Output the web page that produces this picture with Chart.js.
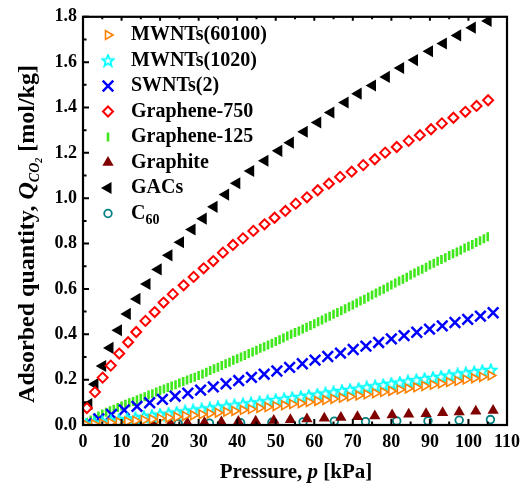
<!DOCTYPE html>
<html>
<head>
<meta charset="utf-8">
<script src="https://cdn.jsdelivr.net/npm/chart.js@4.4.1/dist/chart.umd.min.js"></script>
<style>
  html, body { margin: 0; padding: 0; background: #fff; }
  #wrap { width: 527px; height: 484px; }
</style>
</head>
<body>
<div id="wrap"><canvas id="chart" width="527" height="484"></canvas></div>
<script>
// CO2 adsorption isotherms, p in kPa, Q in mol/kg

const pMWNT = [0.8, 2.9, 5.0, 7.2, 9.3, 11.5, 13.6, 15.8, 17.9, 20.0, 22.2, 24.3, 26.5, 28.6, 30.8, 32.9, 35.0, 37.2, 39.3, 41.5, 43.6, 45.8, 47.9, 50.0, 52.2, 54.3, 56.5, 58.6, 60.8, 62.9, 65.0, 67.2, 69.3, 71.5, 73.6, 75.8, 77.9, 80.0, 82.2, 84.3, 86.5, 88.6, 90.8, 92.9, 95.0, 97.2, 99.3, 101.5, 103.6, 105.8];
const qMWNT60100 = [0.001, 0.004, 0.007, 0.010, 0.013, 0.016, 0.019, 0.022, 0.026, 0.029, 0.032, 0.036, 0.040, 0.043, 0.047, 0.051, 0.054, 0.058, 0.062, 0.066, 0.070, 0.075, 0.079, 0.083, 0.087, 0.092, 0.096, 0.101, 0.106, 0.110, 0.115, 0.120, 0.125, 0.130, 0.135, 0.140, 0.145, 0.150, 0.156, 0.161, 0.166, 0.172, 0.177, 0.183, 0.189, 0.194, 0.200, 0.206, 0.212, 0.218];
const qMWNT1020 = [0.002, 0.007, 0.012, 0.017, 0.021, 0.026, 0.031, 0.036, 0.041, 0.046, 0.050, 0.055, 0.060, 0.064, 0.069, 0.073, 0.078, 0.082, 0.087, 0.091, 0.096, 0.100, 0.105, 0.110, 0.114, 0.119, 0.124, 0.129, 0.134, 0.139, 0.144, 0.150, 0.155, 0.160, 0.166, 0.171, 0.176, 0.182, 0.187, 0.192, 0.198, 0.203, 0.208, 0.213, 0.218, 0.223, 0.228, 0.233, 0.238, 0.243];

const pSWNT = [0.8, 4.1, 7.4, 10.7, 14.0, 17.3, 20.6, 23.9, 27.2, 30.5, 33.8, 37.1, 40.4, 43.7, 47.0, 50.3, 53.6, 56.9, 60.2, 63.5, 66.8, 70.1, 73.4, 76.7, 80.0, 83.3, 86.6, 89.9, 93.2, 96.5, 99.8, 103.1, 106.4];
const qSWNT = [0.006, 0.027, 0.047, 0.066, 0.082, 0.098, 0.113, 0.127, 0.140, 0.154, 0.168, 0.182, 0.196, 0.210, 0.224, 0.238, 0.254, 0.270, 0.286, 0.302, 0.317, 0.333, 0.348, 0.364, 0.380, 0.394, 0.409, 0.423, 0.437, 0.452, 0.466, 0.480, 0.495];

const pG750 = [1.0, 3.1, 5.1, 7.2, 9.4, 11.7, 13.8, 16.2, 18.6, 20.9, 23.3, 26.1, 28.7, 31.3, 33.8, 36.3, 38.9, 41.5, 44.2, 47.1, 49.7, 52.5, 55.2, 58.1, 60.9, 63.8, 66.7, 69.7, 72.7, 75.7, 78.4, 81.4, 84.5, 87.4, 90.3, 93.1, 96.1, 99.2, 102.1, 105.1];
const qG750 = [0.075, 0.145, 0.209, 0.262, 0.315, 0.365, 0.410, 0.459, 0.498, 0.540, 0.577, 0.616, 0.653, 0.691, 0.723, 0.760, 0.794, 0.823, 0.856, 0.885, 0.914, 0.944, 0.976, 1.004, 1.035, 1.064, 1.094, 1.117, 1.146, 1.172, 1.201, 1.226, 1.253, 1.278, 1.304, 1.330, 1.355, 1.381, 1.407, 1.432];

const pG125 = [1, 2, 3, 4, 5, 6, 7, 8, 9, 10, 11, 12, 13, 14, 15, 16, 17, 18, 19, 20, 21, 22, 23, 24, 25, 26, 27, 28, 29, 30, 31, 32, 33, 34, 35, 36, 37, 38, 39, 40, 41, 42, 43, 44, 45, 46, 47, 48, 49, 50, 51, 52, 53, 54, 55, 56, 57, 58, 59, 60, 61, 62, 63, 64, 65, 66, 67, 68, 69, 70, 71, 72, 73, 74, 75, 76, 77, 78, 79, 80, 81, 82, 83, 84, 85, 86, 87, 88, 89, 90, 91, 92, 93, 94, 95, 96, 97, 98, 99, 100, 101, 102, 103, 104, 105];
const qG125 = [0.012, 0.022, 0.031, 0.040, 0.048, 0.056, 0.063, 0.070, 0.077, 0.084, 0.091, 0.098, 0.104, 0.111, 0.118, 0.125, 0.132, 0.138, 0.145, 0.152, 0.159, 0.165, 0.172, 0.178, 0.185, 0.192, 0.198, 0.205, 0.211, 0.218, 0.225, 0.233, 0.240, 0.248, 0.255, 0.262, 0.270, 0.277, 0.285, 0.292, 0.300, 0.307, 0.315, 0.322, 0.330, 0.338, 0.345, 0.353, 0.360, 0.368, 0.376, 0.384, 0.392, 0.400, 0.408, 0.415, 0.423, 0.431, 0.439, 0.447, 0.455, 0.463, 0.472, 0.480, 0.488, 0.496, 0.504, 0.513, 0.521, 0.529, 0.538, 0.547, 0.555, 0.564, 0.573, 0.582, 0.591, 0.599, 0.608, 0.617, 0.626, 0.635, 0.643, 0.652, 0.661, 0.670, 0.679, 0.687, 0.696, 0.705, 0.713, 0.722, 0.730, 0.738, 0.747, 0.755, 0.763, 0.771, 0.780, 0.788, 0.796, 0.805, 0.813, 0.821, 0.830];

const pGraphite = [0.9, 5.3, 9.6, 14.0, 18.4, 22.7, 27.1, 31.5, 35.9, 40.3, 44.8, 49.5, 53.8, 58.1, 62.6, 66.9, 71.2, 75.7, 80.2, 84.5, 89.0, 93.3, 97.6, 101.9, 106.4];
const qGraphite = [0.000, 0.001, 0.002, 0.003, 0.005, 0.007, 0.009, 0.011, 0.013, 0.015, 0.017, 0.020, 0.023, 0.026, 0.030, 0.033, 0.036, 0.040, 0.044, 0.047, 0.050, 0.054, 0.057, 0.061, 0.064];

const pGAC = [1.5, 3.1, 5.1, 7.0, 9.2, 11.5, 14.0, 16.6, 19.5, 22.3, 25.3, 28.3, 31.2, 34.0, 37.0, 39.9, 43.5, 47.2, 50.8, 53.8, 57.4, 60.9, 64.3, 68.0, 71.4, 75.1, 78.7, 82.4, 86.0, 89.9, 93.5, 97.2, 101.0, 105.1];
const qGAC = [0.092, 0.180, 0.260, 0.340, 0.418, 0.490, 0.556, 0.622, 0.686, 0.748, 0.806, 0.862, 0.910, 0.962, 1.016, 1.066, 1.120, 1.165, 1.209, 1.245, 1.293, 1.334, 1.378, 1.422, 1.461, 1.497, 1.535, 1.574, 1.609, 1.648, 1.682, 1.718, 1.752, 1.782];

const pC60 = [0.4, 8.5, 16.6, 24.7, 32.8, 40.9, 49.0, 57.1, 65.2, 73.3, 81.4, 89.5, 97.6, 105.7];
const qC60 = [0.000, 0.002, 0.004, 0.006, 0.008, 0.010, 0.012, 0.014, 0.017, 0.015, 0.018, 0.018, 0.021, 0.024];

const xTicks = [0, 10, 20, 30, 40, 50, 60, 70, 80, 90, 100, 110];
const yTicks = [0, 0.2, 0.4, 0.6, 0.8, 1.0, 1.2, 1.4, 1.6, 1.8];

const FONT = "'Liberation Serif', 'Times New Roman', serif";

function pts(xs, ys) {
  return xs.map((x, i) => ({ x: x, y: ys[i] }));
}

// open five-point star used for MWNTs(1020)
function makeStar() {
  const c = document.createElement("canvas");
  c.width = 14;
  c.height = 14;
  const g = c.getContext("2d");
  g.beginPath();
  for (let k = 0; k < 10; k++) {
    const r = k % 2 === 0 ? 6 : 2.6;
    const a = -Math.PI / 2 + (k * Math.PI) / 5;
    const px = 7 + r * Math.cos(a);
    const py = 7.5 + r * Math.sin(a);
    if (k === 0) g.moveTo(px, py);
    else g.lineTo(px, py);
  }
  g.closePath();
  g.fillStyle = "#ffffff";
  g.fill();
  g.lineWidth = 1.8;
  g.strokeStyle = "#00ffff";
  g.stroke();
  return c;
}
const starImg = makeStar();

const datasets = [
  {
    label: "MWNTs(60100)",
    data: pts(pMWNT, qMWNT60100),
    pointStyle: "triangle",
    rotation: 90,
    radius: 5,
    borderWidth: 1.6,
    borderColor: "#ff8000",
    backgroundColor: "#ffffff",
  },
  {
    label: "MWNTs(1020)",
    data: pts(pMWNT, qMWNT1020),
    pointStyle: starImg,
    radius: 6,
    borderWidth: 0,
    borderColor: "#00ffff",
    backgroundColor: "#00ffff",
  },
  {
    label: "SWNTs(2)",
    data: pts(pSWNT, qSWNT),
    pointStyle: "crossRot",
    radius: 7.5,
    borderWidth: 2.5,
    borderColor: "#0000ff",
    backgroundColor: "#0000ff",
  },
  {
    label: "Graphene-750",
    data: pts(pG750, qG750),
    pointStyle: "rectRot",
    radius: 5,
    borderWidth: 2,
    borderColor: "#ff0000",
    backgroundColor: "#ffffff",
  },
  {
    label: "Graphene-125",
    data: pts(pG125, qG125),
    pointStyle: "line",
    rotation: 90,
    radius: 4.5,
    borderWidth: 2.6,
    borderColor: "#3fe81a",
    backgroundColor: "#3fe81a",
  },
  {
    label: "Graphite",
    data: pts(pGraphite, qGraphite),
    pointStyle: "triangle",
    radius: 6.5,
    borderWidth: 0,
    borderColor: "#800000",
    backgroundColor: "#800000",
  },
  {
    label: "GACs",
    data: pts(pGAC, qGAC),
    pointStyle: "triangle",
    rotation: -90,
    radius: 7,
    borderWidth: 0,
    borderColor: "#000000",
    backgroundColor: "#000000",
  },
  {
    label: "C60",
    data: pts(pC60, qC60),
    pointStyle: "circle",
    radius: 3.8,
    borderWidth: 1.8,
    borderColor: "#008080",
    backgroundColor: "rgba(0,0,0,0)",
  },
];

// draw mixed-style text runs starting at x, returns end x
function drawRuns(ctx, runs, x, y) {
  runs.forEach((r) => {
    ctx.font = r.font;
    ctx.fillText(r.text, x, y + (r.dy || 0));
    x += ctx.measureText(r.text).width;
  });
  return x;
}
function runsWidth(ctx, runs) {
  let w = 0;
  runs.forEach((r) => {
    ctx.font = r.font;
    w += ctx.measureText(r.text).width;
  });
  return w;
}

const framePlugin = {
  id: "frame",
  afterDatasetsDraw(chart) {
    const { ctx, chartArea: a, scales } = chart;
    const xs = scales.x;
    const ys = scales.y;
    ctx.save();
    ctx.strokeStyle = "#000";
    ctx.lineWidth = 2;
    ctx.beginPath();
    // inward ticks, minor halfway between majors
    for (let i = 0; i < xTicks.length; i++) {
      const vals = [xTicks[i]];
      if (i < xTicks.length - 1) vals.push((xTicks[i] + xTicks[i + 1]) / 2);
      vals.forEach((v, j) => {
        const px = xs.getPixelForValue(v);
        const len = j === 0 ? 6 : 3.5;
        ctx.moveTo(px, a.bottom);
        ctx.lineTo(px, a.bottom - len);
        ctx.moveTo(px, a.top);
        ctx.lineTo(px, a.top + (j === 0 ? 4 : 2.5));
      });
    }
    for (let i = 0; i < yTicks.length; i++) {
      const vals = [yTicks[i]];
      if (i < yTicks.length - 1) vals.push((yTicks[i] + yTicks[i + 1]) / 2);
      vals.forEach((v, j) => {
        const py = ys.getPixelForValue(v);
        ctx.moveTo(a.left, py);
        ctx.lineTo(a.left + (j === 0 ? 6 : 3.5), py);
      });
    }
    ctx.stroke();
    ctx.lineWidth = 2.2;
    ctx.strokeRect(a.left, a.top, a.right - a.left, a.bottom - a.top);
    ctx.restore();
  },
  afterDraw(chart) {
    const { ctx } = chart;
    ctx.save();
    ctx.fillStyle = "#000";
    ctx.textBaseline = "alphabetic";

    // x title
    const xRuns = [
      { text: "Pressure, ", font: "bold 21px " + FONT },
      { text: "p", font: "italic bold 21px " + FONT },
      { text: " [kPa]", font: "bold 21px " + FONT },
    ];
    const xw = runsWidth(ctx, xRuns);
    drawRuns(ctx, xRuns, 296 - xw / 2, 478);

    // y title, rotated
    const yRuns = [
      { text: "Adsorbed quantity, ", font: "bold 24px " + FONT },
      { text: "Q", font: "italic bold 24px " + FONT },
      { text: "CO", font: "italic bold 14px " + FONT, dy: 5 },
      { text: "2", font: "italic bold 10px " + FONT, dy: 8 },
      { text: " [mol/kg]", font: "bold 24px " + FONT },
    ];
    const yw = runsWidth(ctx, yRuns);
    ctx.translate(34, 234);
    ctx.rotate(-Math.PI / 2);
    drawRuns(ctx, yRuns, -yw / 2, 0);
    ctx.restore();

    // legend
    ctx.save();
    chart.data.datasets.forEach((ds, i) => {
      const ly = 35 + i * 25.5;
      const mx = 108;
      ctx.fillStyle = ds.backgroundColor;
      ctx.strokeStyle = ds.borderColor;
      ctx.lineWidth = ds.borderWidth;
      Chart.helpers.drawPoint(
        ctx,
        {
          pointStyle: ds.pointStyle,
          rotation: ds.rotation || 0,
          radius: ds.radius,
          borderWidth: ds.borderWidth,
        },
        mx,
        ly
      );
      ctx.fillStyle = "#000";
      ctx.textBaseline = "middle";
      if (ds.label === "C60") {
        drawRuns(
          ctx,
          [
            { text: "C", font: "bold 20px " + FONT },
            { text: "60", font: "bold 14px " + FONT, dy: 7 },
          ],
          131,
          ly
        );
      } else {
        ctx.font = "bold 20px " + FONT;
        ctx.fillText(ds.label, 131, ly);
      }
    });
    ctx.restore();
  },
};

new Chart(document.getElementById("chart"), {
  type: "scatter",
  data: { datasets: datasets },
  options: {
    responsive: false,
    animation: false,
    devicePixelRatio: 1,
    layout: { padding: { top: 15, right: 17, left: 0, bottom: 0 } },
    plugins: {
      legend: { display: false },
      tooltip: { enabled: false },
      title: { display: false },
    },
    scales: {
      x: {
        type: "linear",
        min: 0,
        max: 110,
        afterFit: (s) => { s.height = 59; },
        afterBuildTicks: (s) => { s.ticks = xTicks.map((v) => ({ value: v })); },
        grid: { display: false, drawTicks: false },
        border: { display: false },
        ticks: {
          color: "#000",
          padding: 7,
          maxRotation: 0,
          autoSkip: false,
          font: { family: FONT, weight: "bold", size: 18 },
        },
      },
      y: {
        type: "linear",
        min: 0,
        max: 1.8,
        afterFit: (s) => { s.width = 83; },
        afterBuildTicks: (s) => { s.ticks = yTicks.map((v) => ({ value: v })); },
        grid: { display: false, drawTicks: false },
        border: { display: false },
        ticks: {
          color: "#000",
          padding: 6,
          autoSkip: false,
          font: { family: FONT, weight: "bold", size: 18 },
          callback: (v) => Number(v).toFixed(1),
        },
      },
    },
  },
  plugins: [framePlugin],
});
</script>
</body>
</html>
